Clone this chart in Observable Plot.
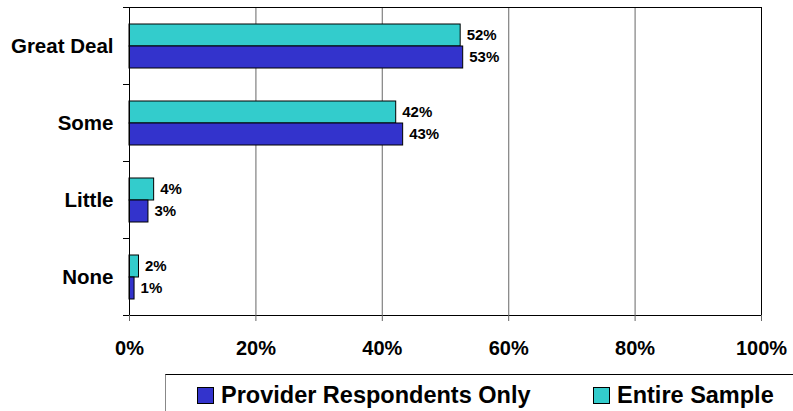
<!DOCTYPE html>
<html>
<head>
<meta charset="utf-8">
<script src="https://cdn.jsdelivr.net/npm/d3@7"></script>
<script src="https://cdn.jsdelivr.net/npm/@observablehq/plot@0.6"></script>
<style>
  html, body { margin: 0; padding: 0; background: #fff; overflow: hidden; }
  body { width: 793px; height: 411px; position: relative; font-family: "Liberation Sans", Arial, sans-serif; }
  #legend { position: absolute; left: 165px; top: 374px; width: 640px; height: 37px;
            border-top: 1px solid #000; border-left: 1px solid #888; box-sizing: border-box; }
  .item { position: absolute; top: 8px; height: 24px; line-height: 24px; display: flex; align-items: center; font-weight: bold; font-size: 23.5px; color: #000; white-space: nowrap; }
  .sw { width: 15px; height: 15px; border: 1px solid #000; margin-right: 7px; }
</style>
</head>
<body>
<div id="chart"></div>
<div id="legend"></div>
<script>
const categories = ["Great Deal", "Some", "Little", "None"];
const seriesNames = ["Provider Respondents Only", "Entire Sample"];
const providerValues = [52.8, 43.3, 3.0, 0.8];
const entireValues = [52.4, 42.2, 3.9, 1.5];
const xTicks = [0, 20, 40, 60, 80, 100];
const colors = {"Provider Respondents Only": "#3333CC", "Entire Sample": "#33CCCC"};

const provider = categories.map((c, i) => ({category: c, value: providerValues[i]}));
const entire = categories.map((c, i) => ({category: c, value: entireValues[i]}));

const font = "Liberation Sans, Arial, sans-serif";

const chart = Plot.plot({
  width: 793,
  height: 372,
  marginLeft: 129,
  marginRight: 32,
  marginTop: 7,
  marginBottom: 57,
  style: {fontFamily: font, background: "#fff"},
  x: {domain: [0, 100]},
  y: {domain: categories, padding: 0},
  marks: [
    Plot.gridX({ticks: xTicks.slice(1, -1), stroke: "#808080", strokeOpacity: 1, strokeWidth: 1.2}),
    // bar shadows
    Plot.ruleX(entire, {x: "value", y: "category", dx: 1.5, stroke: "#999", insetTop: 18, insetBottom: 37}),
    Plot.ruleX(provider, {x: "value", y: "category", dx: 1.5, stroke: "#999", insetTop: 40, insetBottom: 15}),
    Plot.barX(entire, {x: "value", y: "category", fill: colors["Entire Sample"], stroke: "#000", strokeWidth: 1, insetTop: 17, insetBottom: 38}),
    Plot.barX(provider, {x: "value", y: "category", fill: colors["Provider Respondents Only"], stroke: "#000", strokeWidth: 1, insetTop: 39, insetBottom: 16}),
    Plot.text(entire, {x: "value", y: "category", text: d => Math.round(d.value) + "%", dx: 6, dy: -10.5, textAnchor: "start", fontSize: 15, fontWeight: "bold", fill: "#000"}),
    Plot.text(provider, {x: "value", y: "category", text: d => Math.round(d.value) + "%", dx: 6, dy: 11.5, textAnchor: "start", fontSize: 15, fontWeight: "bold", fill: "#000"}),
    Plot.frame({stroke: "#000", strokeWidth: 1}),
    Plot.axisY({tickSize: 0, tickPadding: 16, fontSize: 20.5, fontWeight: "bold", label: null, fill: "#000"}),
    Plot.axisY({tickSize: 6, text: null, dy: -38.5, label: null, stroke: "#000"}),
    Plot.axisY({tickSize: 6, text: null, dy: 38.5, label: null, stroke: "#000"}),
    Plot.axisX({ticks: xTicks, tickFormat: d => d + "%", tickSize: 6, tickPadding: 19, fontSize: 20, fontWeight: "bold", label: null, stroke: "#666", fill: "#000"})
  ]
});
document.getElementById("chart").append(chart);

const legend = document.getElementById("legend");
const legendOrder = [
  {name: seriesNames[0], left: 31},
  {name: seriesNames[1], left: 427}
];
legendOrder.forEach(({name, left}) => {
  const item = document.createElement("div");
  item.className = "item";
  item.style.left = left + "px";
  const sw = document.createElement("span");
  sw.className = "sw";
  sw.style.background = colors[name];
  const t = document.createElement("span");
  t.textContent = name;
  item.append(sw, t);
  legend.append(item);
});
</script>
</body>
</html>
